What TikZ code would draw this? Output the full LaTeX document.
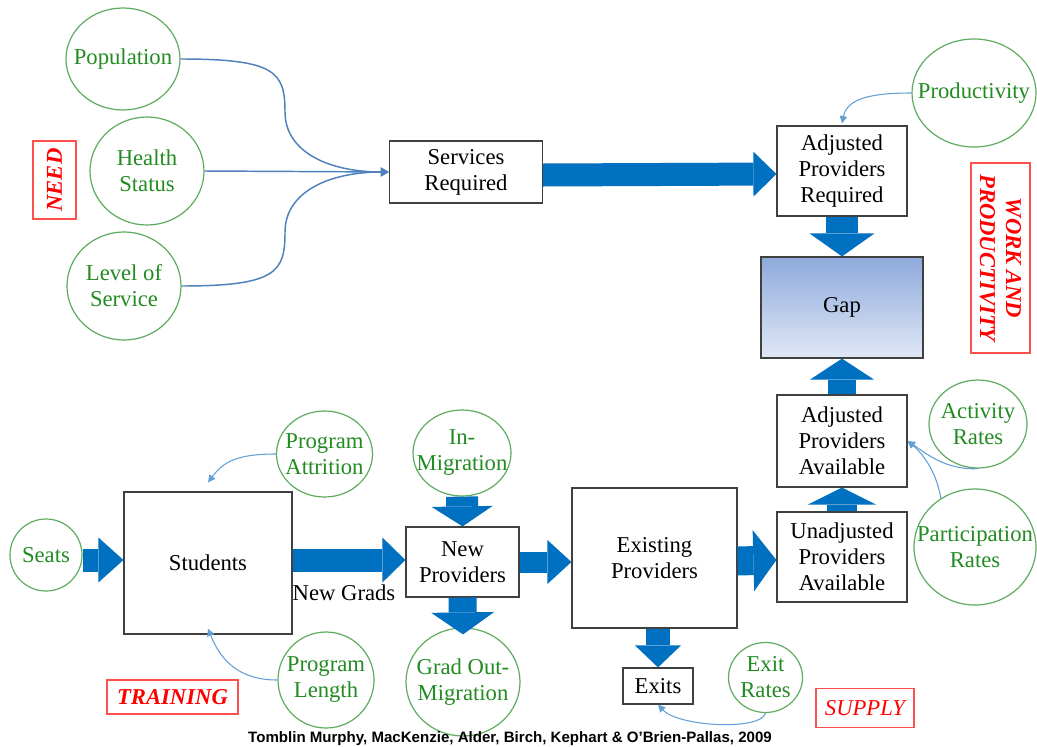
\documentclass[tikz,border=0pt]{standalone}
\usepackage{fontspec}
\setmainfont{Liberation Serif}
\newfontfamily\citefont{Liberation Sans}
\usetikzlibrary{shapes.geometric,arrows.meta,calc}
\definecolor{bblue}{RGB}{0,112,192}
\definecolor{tblue}{RGB}{79,129,189}
\definecolor{lblue}{RGB}{100,160,215}
\definecolor{cgreen}{RGB}{34,139,34}
\definecolor{cline}{RGB}{95,172,95}
\definecolor{gaptop}{RGB}{142,169,219}
\definecolor{gapbot}{RGB}{224,232,246}
\definecolor{redline}{RGB}{255,80,80}
\begin{document}
\begin{tikzpicture}[x=0.75pt,y=-0.75pt,
  every node/.style={font=\fontsize{17}{19.5}\selectfont},
  rbox/.style 2 args={draw=black!75, line width=0.9pt, align=center, inner sep=0pt, minimum width=#1*0.75pt, minimum height=#2*0.75pt},
  circ/.style 2 args={ellipse, draw=cline, line width=0.9pt, inner sep=0pt, minimum width=#1*0.75pt, minimum height=#2*0.75pt},
  ctext/.style={align=center, text=cgreen, inner sep=0pt},
  secbox/.style 2 args={draw=redline, line width=0.9pt, text=red, inner sep=0pt, align=center, minimum width=#1*0.75pt, minimum height=#2*0.75pt, font=\fontsize{17}{19.5}\selectfont\bfseries\itshape},
  blk/.style n args={3}{draw=bblue, line width=#1, -{Triangle[width=#2,length=#3,line width=0pt]}},
  feed/.style={draw=tblue, line width=1.1pt, -{Triangle[length=6pt,width=6.5pt]}},
  feedlight/.style={draw=lblue, line width=0.8pt, -{Triangle[length=5.5pt,width=5.5pt]}},
]
\path[use as bounding box, fill=white] (0,0) rectangle (1037,746);

% NEED
\node[circ={114}{102}, label={[ctext]center:Population}] (pop) at (123,59) {};
\node[circ={114}{108}, label={[ctext]center:{Health\\Status}}] (hs) at (147,171) {};
\node[circ={114}{108}, label={[ctext]center:{Level of\\Service}}] (lvl) at (124,286) {};
\node[secbox={78}{43}, rotate=90] (need) at (54.5,180) {NEED};
\node[rbox={153}{62}] (srv) at (466,172) {Services\\Required};

% WORK AND PRODUCTIVITY
\node[rbox={130}{90}] (apr) at (842,171) {Adjusted\\Providers\\Required};
\node[circ={124}{108}, label={[ctext]center:Productivity}] (prod) at (974,93) {};
\node[rbox={162}{101}, top color=gaptop, bottom color=gapbot] (gap) at (842,307.5) {Gap};
\node[secbox={190}{59}, rotate=-90] (work) at (1000.5,258) {WORK AND\\PRODUCTIVITY};
\node[rbox={130}{92}] (apa) at (842,441) {Adjusted\\Providers\\Available};
\node[rbox={130}{90}] (unadj) at (842,557) {Unadjusted\\Providers\\Available};
\node[circ={98}{88}, label={[ctext]center:{Activity\\Rates}}] (act) at (978,424) {};
\node[circ={122}{116}, label={[ctext]center:{Participation\\Rates}}] (part) at (975,547) {};

% TRAINING
\node[circ={72}{72}, label={[ctext]center:Seats}] (seats) at (46,555) {};
\node[rbox={168}{142}] (students) at (208,563) {Students};
\node[circ={96}{86}, label={[ctext]center:{Program\\Attrition}}] (attr) at (324.5,454) {};
\node[circ={96}{96}, label={[ctext]center:{Program\\Length}}] (plen) at (326,680) {};
\node[secbox={131}{34}] (training) at (172.5,697) {TRAINING};
\node[inner sep=0pt] (newgrads) at (344,593) {New Grads};

% SUPPLY
\node[rbox={113}{70}] (newprov) at (462.5,562) {New\\Providers};
\node[circ={98}{86}, label={[ctext]center:{In-\\Migration}}] (inmig) at (462,453) {};
\node[circ={114}{108}, label={[ctext]center:{Grad Out-\\Migration}}] (gradout) at (463,682) {};
\node[rbox={165}{140}] (existing) at (654.5,558) {Existing\\Providers};
\node[rbox={70}{36}] (exits) at (658,686) {Exits};
\node[circ={74}{70}, label={[ctext]center:{Exit\\Rates}}] (exitr) at (765.5,677.5) {};
\node[secbox={98}{39}, font=\fontsize{17}{19.5}\selectfont\itshape] (supply) at (865,708) {SUPPLY};

\node[font=\citefont\bfseries\fontsize{11.3}{13}\selectfont, inner sep=0pt] (cite) at (510,739)
  {Tomblin Murphy, MacKenzie, Alder, Birch, Kephart \& O’Brien-Pallas, 2009};

% thin feed arrows
\draw[feed] (pop.east) .. controls +(95,0) and +(0,-40) .. (285,112) .. controls +(0,40) and +(-60,0) .. (srv.west);
\draw[feed] (hs.east) -- (srv.west);
\draw[feed] (lvl.east) .. controls +(95,0) and +(0,40) .. (285,232) .. controls +(0,-40) and +(-60,0) .. (srv.west);
\draw[feedlight] (prod.west) .. controls +(-40,0) and +(5,-25) .. ($(apr.north)+(0,-2)$);
\draw[feedlight] (attr.west) .. controls +(-40,0) and +(15,-20) .. ($(students.north)+(0,-9)$);
\draw[feedlight] (plen.west) .. controls +(-40,0) and +(12,30) .. ($(students.south)+(0,-6)$);
\draw[feedlight] (act.south) .. controls +(-33,2) and +(15,10) .. (apa.east);
\draw[feedlight] (part.125) .. controls +(-5,-30) and +(12,10) .. (apa.east);
\draw[feedlight] (exitr.south) .. controls +(-5,18) and +(20,22) .. (exits.south);

% block arrows
\draw[blk={17.25pt}{33.75pt}{17.25pt}] ($(srv.east)+(0,3)$) -- ($(apr.west)+(0,3)$);
\draw[blk={17.25pt}{33.75pt}{18.75pt}] ($(seats.east)+(0,5)$) -- ($(students.west)+(0,-3)$);
\draw[blk={17.25pt}{33.75pt}{17.25pt}] ($(students.east)+(0,-3)$) -- ($(newprov.west)+(0,-2)$);
\draw[blk={15.75pt}{33pt}{18pt}] (newprov.east) -- (newprov.east -| existing.west);
\draw[blk={21.75pt}{45.75pt}{17.25pt}] ($(existing.east)+(0,3)$) -- ($(unadj.west)+(0,3)$);
\draw[blk={24pt}{48.75pt}{17.25pt}] (apr.south) -- (gap.north);
\draw[blk={21pt}{48pt}{15.75pt}] (apa.north) -- (gap.south);
\draw[blk={22.5pt}{51pt}{12.75pt}] (unadj.north) -- (apa.south);
\draw[blk={18pt}{34.5pt}{16.5pt}] (existing.south -| exits.north) -- (exits.north);
\draw[blk={24pt}{45.75pt}{15pt}] (inmig.south) -- (newprov.north);
\draw[blk={21pt}{47.25pt}{16.5pt}] (newprov.south) -- ($(gradout.north)+(0,7)$);
\end{tikzpicture}
\end{document}
